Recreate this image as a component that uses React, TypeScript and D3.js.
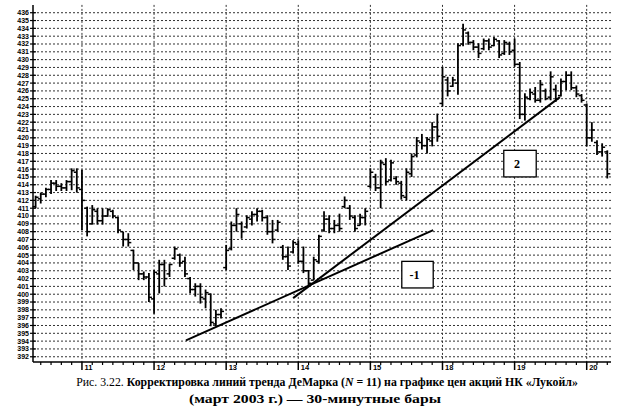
import React from "react";
import * as d3 from "d3";

// ---- data (30-minute bars, LUKOIL, March 2003) ----
const highs = [
  412.6, 413.0, 413.6, 414.6, 414.6, 414.2, 414.6, 416.1, 416.1,
  415.9, 411.2, 411.4, 411.0, 411.0, 411.0, 410.8, 409.9, 408.0, 407.8, 405.7, 404.0, 402.9, 402.7,
  403.1, 404.4, 404.4, 403.9, 406.1, 405.2, 404.8, 402.2, 401.4, 401.4, 400.6, 400.1, 398.0, 398.2,
  406.3, 409.3, 411.0, 409.3, 410.1, 410.6, 411.0, 410.8, 410.1, 409.5, 409.5, 406.3, 406.1, 406.9,
  406.9, 406.1, 403.1, 404.8, 407.6, 410.6, 410.1, 409.5, 410.3, 412.5, 411.4, 410.1, 410.3, 411.0,
  416.1, 415.4, 417.2, 417.4, 417.2, 415.1, 414.5, 416.1, 418.0, 420.1, 420.5, 420.1, 422.0, 423.1,
  429.1, 427.8, 427.8, 432.1, 434.6, 433.6, 432.5, 432.1, 432.7, 432.7, 432.9, 432.5, 432.5, 432.3,
  432.7, 429.7, 425.7, 426.3, 426.5, 427.4, 426.3, 428.5, 426.8, 427.6, 428.5, 428.5, 426.7, 425.6,
  424.4, 422.0, 419.7, 419.3, 418.4,
];
const lows = [
  411.0, 411.6, 412.4, 412.8, 413.2, 413.2, 413.2, 413.3, 413.0,
  408.2, 407.4, 408.9, 408.9, 408.9, 409.9, 409.7, 407.8, 406.1, 406.1, 403.1, 401.8, 401.8, 399.0,
  397.5, 400.1, 401.0, 402.2, 404.4, 403.5, 402.2, 400.1, 399.7, 398.8, 398.2, 395.9, 395.9, 396.9,
  403.1, 405.6, 408.0, 407.1, 408.4, 408.8, 409.3, 409.3, 407.6, 406.5, 408.0, 404.4, 403.1, 405.2,
  403.9, 402.7, 401.0, 401.8, 403.9, 408.0, 407.8, 407.8, 408.0, 411.0, 409.5, 408.0, 408.8, 408.8,
  413.5, 413.2, 411.0, 413.9, 414.4, 414.0, 412.1, 412.0, 415.0, 417.5, 418.5, 418.0, 418.9, 419.5,
  424.0, 425.3, 426.5, 425.5, 431.7, 431.9, 431.2, 430.2, 431.2, 431.2, 431.7, 430.2, 430.6, 430.6,
  429.1, 422.4, 422.2, 424.8, 424.5, 424.5, 424.8, 424.8, 424.6, 425.3, 426.1, 426.1, 425.2, 424.5,
  418.9, 419.5, 417.8, 417.6, 414.8,
];
const opens = [
  411.2, 412.2, 412.8, 413.4, 414.2, 413.8, 413.6, 414.4, 415.6,
  413.4, 411.0, 409.0, 410.6, 409.4, 410.0, 410.6, 409.8, 408.0, 407.0, 405.6, 404.0, 402.6, 402.2,
  399.4, 402.6, 403.8, 402.6, 404.6, 405.0, 404.2, 402.0, 400.6, 401.0, 399.4, 400.0, 396.2, 397.4,
  403.4, 405.8, 408.8, 409.0, 408.6, 409.6, 410.2, 410.6, 409.8, 408.0, 408.2, 406.0, 404.8, 405.4,
  406.4, 404.2, 403.0, 401.8, 404.2, 408.2, 409.6, 408.4, 408.8, 411.2, 411.0, 409.8, 408.8, 409.8,
  413.8, 415.0, 413.6, 416.6, 414.6, 414.8, 414.2, 412.4, 415.4, 417.8, 419.4, 419.0, 419.6, 421.4,
  424.4, 427.4, 426.6, 427.0, 432.0, 433.4, 432.2, 431.6, 431.4, 432.4, 431.8, 432.4, 430.8, 432.0,
  431.2, 429.4, 423.0, 425.0, 425.6, 424.8, 426.0, 425.2, 426.2, 425.4, 427.2, 428.0, 426.4, 425.4,
  424.2, 420.0, 419.4, 418.2, 418.2,
];
const closes = [
  412.4, 412.8, 413.4, 414.2, 413.8, 413.6, 414.4, 415.8, 413.6,
  412.0, 408.0, 410.8, 409.4, 410.0, 410.8, 410.0, 408.2, 407.0, 406.6, 404.0, 402.6, 402.2, 399.6,
  402.8, 403.8, 402.0, 403.8, 405.8, 404.0, 402.6, 400.6, 401.0, 399.6, 400.2, 396.4, 397.4, 397.8,
  405.6, 408.8, 410.2, 408.0, 409.8, 410.2, 410.6, 409.8, 408.0, 407.0, 409.2, 404.8, 403.6, 406.6,
  404.2, 403.0, 401.4, 404.4, 407.4, 409.6, 408.4, 408.8, 408.4, 412.0, 410.0, 408.4, 409.8, 410.6,
  415.6, 413.6, 416.8, 414.4, 416.8, 414.4, 412.6, 415.6, 417.6, 419.6, 419.0, 419.8, 421.4, 420.2,
  427.8, 426.0, 427.4, 431.8, 433.8, 432.2, 431.6, 430.8, 432.4, 431.6, 432.6, 430.6, 432.2, 431.0,
  429.4, 423.0, 425.2, 425.8, 424.8, 426.8, 425.0, 427.8, 425.0, 427.2, 428.0, 426.4, 425.6, 424.8,
  420.0, 421.0, 418.2, 418.8, 415.4,
];
const dayLabels = ["11", "12", "13", "14", "15", "18", "19", "20"];
const dayStartIndex = [9, 23, 37, 51, 65, 79, 93, 107];
const yTickValues = d3.range(392, 437);

// trend lines: [index, price] endpoints
const trendLine1 = [[29.2, 394.1], [77.2, 408.2]];
const trendLine2 = [[50.0, 399.5], [101.8, 425.2]];
// annotation boxes: [idx0, idx1, priceTop, priceBottom]
const boxLabels = ["2", "-1"];
const boxExtents = [[90.9, 97.2, 418.4, 415.0], [71.1, 77.2, 404.2, 400.8]];

const captionLine1a = "Рис. 3.22. ";
const captionLine1b = "Корректировка линий тренда ДеМарка (";
const captionLine1c = "N";
const captionLine1d = " = 11) на графике цен акций НК «Лукойл»";
const captionLine2 = "(март 2003 г.) — 30-минутные бары";

export default function App() {
  const W = 642, H = 416;
  const left = 33, right = 611, top = 4.9, bottom = 362;
  const x = d3.scaleLinear().domain([0, 111]).range([35.6, 607.3]);
  const y = d3.scaleLinear().domain([391.33, 437]).range([bottom, top]);
  const n = highs.length;
  const minorTicks = d3.range(1, n, 2).filter((i) => !dayStartIndex.includes(i));
  const line = d3.line<number[]>().x((d) => x(d[0])).y((d) => y(d[1]));
  const serif = "Liberation Serif, 'Times New Roman', serif";

  return (
    <div style={{ position: "absolute", left: 0, top: 0 }}>
      <svg width={W} height={H} style={{ display: "block", background: "#fff" }}>
        {/* horizontal grid */}
        {yTickValues.map((v) => (
          <line key={"h" + v} x1={left} x2={right} y1={y(v)} y2={y(v)}
            stroke="#333" strokeWidth={1} strokeDasharray="2,2" />
        ))}
        {/* vertical day grid */}
        {dayStartIndex.map((i) => (
          <line key={"v" + i} x1={x(i)} x2={x(i)} y1={top} y2={bottom}
            stroke="#333" strokeWidth={1} strokeDasharray="2,2" />
        ))}
        {/* y axis */}
        <line x1={left} x2={left} y1={top} y2={bottom} stroke="#000" strokeWidth={1.5} />
        {yTickValues.map((v) => (
          <g key={"t" + v}>
            <line x1={left - 3} x2={left + 3} y1={y(v)} y2={y(v)} stroke="#000" strokeWidth={1.2} />
            <text x={left - 4} y={y(v)} dy="0.35em" textAnchor="end"
              fontFamily="Liberation Sans, Arial, sans-serif" fontWeight="bold" fontSize={7}
              fill="#000">{v}</text>
          </g>
        ))}
        {/* x axis */}
        <line x1={left} x2={right} y1={bottom} y2={bottom} stroke="#000" strokeWidth={1.5} />
        {minorTicks.map((i) => (
          <line key={"m" + i} x1={x(i)} x2={x(i)} y1={bottom} y2={bottom + 3} stroke="#000" strokeWidth={1.2} />
        ))}
        {dayStartIndex.map((i, k) => (
          <g key={"d" + i}>
            <line x1={x(i)} x2={x(i)} y1={bottom} y2={bottom + 8} stroke="#000" strokeWidth={1.5} />
            <text x={x(i) + 2.5} y={bottom + 7.5} fontFamily="Liberation Sans, Arial, sans-serif"
              fontWeight="bold" fontSize={7.5} fill="#000">{dayLabels[k]}</text>
          </g>
        ))}
        {/* OHLC bars */}
        {highs.map((h, i) => (
          <g key={"b" + i} stroke="#000" strokeWidth={1.8}>
            <line x1={x(i)} x2={x(i)} y1={y(h)} y2={y(lows[i])} />
            <line x1={x(i) - 3} x2={x(i)} y1={y(opens[i])} y2={y(opens[i])} strokeWidth={1.5} />
            <line x1={x(i)} x2={x(i) + 3} y1={y(closes[i])} y2={y(closes[i])} strokeWidth={1.5} />
          </g>
        ))}
        {/* trend lines */}
        <path d={line(trendLine1) || ""} stroke="#000" strokeWidth={2} fill="none" />
        <path d={line(trendLine2) || ""} stroke="#000" strokeWidth={2} fill="none" />
        {/* annotation boxes */}
        {boxExtents.map((b, k) => (
          <g key={"box" + k}>
            <rect x={x(b[0])} y={y(b[2])} width={x(b[1]) - x(b[0])} height={y(b[3]) - y(b[2])}
              fill="#fff" stroke="#000" strokeWidth={1.3} />
            <text x={(x(b[0]) + x(b[1])) / 2 - 3} y={(y(b[2]) + y(b[3])) / 2} dy="0.35em"
              textAnchor="middle" fontFamily={serif} fontWeight="bold"
              fontSize={12} fill="#000">{boxLabels[k]}</text>
          </g>
        ))}
        {/* caption */}
        <text x={327} y={386} textAnchor="middle" fontFamily={serif} fontSize={11.8} fill="#000">
          <tspan>{captionLine1a}</tspan>
          <tspan fontWeight="bold">{captionLine1b}</tspan>
          <tspan fontWeight="bold" fontStyle="italic">{captionLine1c}</tspan>
          <tspan fontWeight="bold">{captionLine1d}</tspan>
        </text>
        <text x={315} y={403} textAnchor="middle" fontFamily={serif}
          fontSize={12.5} fontWeight="bold" fill="#000" textLength={252} lengthAdjust="spacingAndGlyphs">
          {captionLine2}
        </text>
      </svg>
    </div>
  );
}
